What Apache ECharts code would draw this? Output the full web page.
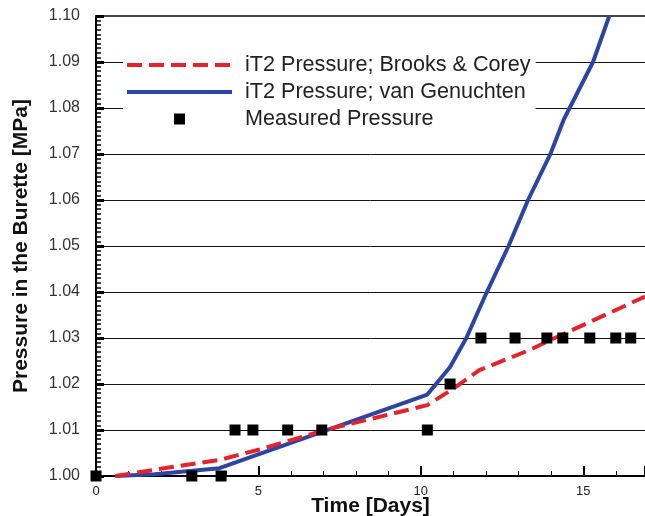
<!DOCTYPE html>
<html>
<head>
<meta charset="utf-8">
<script src="https://cdn.jsdelivr.net/npm/echarts@6/dist/echarts.min.js"></script>
<style>
html,body{margin:0;padding:0;background:#fff;}
#c{width:645px;height:516px;}
</style>
</head>
<body>
<div id="c"></div>
<script>
// Measured pressure
const measuredDays = [0, 2.95, 3.85, 4.28, 4.83, 5.9, 6.95, 10.2, 10.9, 11.85, 12.9, 13.88, 14.37, 15.2, 16.0, 16.46];
const measuredP    = [1.00, 1.00, 1.00, 1.01, 1.01, 1.01, 1.01, 1.01, 1.02, 1.03, 1.03, 1.03, 1.03, 1.03, 1.03, 1.03];

// iT2 Pressure; Brooks & Corey
const bcDays = [0.6, 1.75, 3.8, 5.0, 7.0, 10.2, 11.0, 11.8, 13.35, 14.0, 16.9];
const bcP    = [1.0, 1.0013, 1.0035, 1.0057, 1.0099, 1.0154, 1.019, 1.023, 1.0274, 1.0296, 1.039];

// iT2 Pressure; van Genuchten
const vgDays = [0.6, 1.8, 3.8, 10.2, 10.9, 11.4, 12.0, 12.7, 13.3, 14.0, 14.4, 15.3, 15.8];
const vgP    = [1.0, 1.0004, 1.0017, 1.0177, 1.0237, 1.030, 1.0395, 1.050, 1.060, 1.0702, 1.0775, 1.090, 1.100];

const seriesNames = ['iT2 Pressure; Brooks & Corey', 'iT2 Pressure; van Genuchten', 'Measured Pressure'];

const zip = (xs, ys) => xs.map((x, i) => [x, ys[i]]);
const FONT = 'Arial, "Liberation Sans", sans-serif';

const chart = echarts.init(document.getElementById('c'), null, {renderer: 'canvas'});
chart.setOption({
  backgroundColor: '#ffffff',
  animation: false,
  grid: {left: 96, top: 16, right: 0, bottom: 40, containLabel: false, outerBoundsMode: 'none'},
  legend: {
    orient: 'vertical',
    left: 123,
    top: 45,
    padding: [9, 5, 8, 2],
    backgroundColor: '#ffffff',
    itemWidth: 105,
    itemHeight: 11,
    itemGap: 5,
    symbolKeepAspect: true,
    lineStyle: {width: 4},
    textStyle: {fontFamily: FONT, fontSize: 21.6, color: '#222', lineHeight: 22, padding: [0, 0, 0, 8]},
    data: [
      {name: seriesNames[0], itemStyle: {opacity: 0}},
      {name: seriesNames[1], itemStyle: {opacity: 0}},
      {name: seriesNames[2], icon: 'path://M0,0L10,0L10,10L0,10Z'}
    ]
  },
  xAxis: [{
    type: 'value',
    min: 0,
    max: 16.9,
    interval: 5,
    name: 'Time [Days]',
    nameLocation: 'middle',
    nameGap: 20,
    nameMoveOverlap: false,
    nameTextStyle: {fontFamily: FONT, fontSize: 21, fontWeight: 'bold', color: '#111'},
    axisLine: {show: true, onZero: false, lineStyle: {color: '#000', width: 2}},
    axisTick: {show: true, inside: true, length: 10, lineStyle: {color: '#000', width: 2}},
    minorTick: {show: true, splitNumber: 5, length: 5, lineStyle: {color: '#000', width: 1}},
    axisLabel: {fontFamily: FONT, fontSize: 13, color: '#222', margin: 9, showMaxLabel: false},
    splitLine: {show: false}
  }, {
    type: 'value',
    position: 'top',
    min: 0,
    max: 16.9,
    axisLine: {show: true, onZero: false, lineStyle: {color: '#444', width: 2}},
    axisTick: {show: false},
    axisLabel: {show: false},
    splitLine: {show: false}
  }],
  yAxis: {
    type: 'value',
    min: 1.0,
    max: 1.1,
    interval: 0.01,
    name: 'Pressure in the Burette [MPa]',
    nameLocation: 'middle',
    nameGap: 64,
    nameRotate: 90,
    nameMoveOverlap: false,
    nameTextStyle: {fontFamily: FONT, fontSize: 21, fontWeight: 'bold', color: '#111'},
    axisLine: {show: true, onZero: false, lineStyle: {color: '#000', width: 2}},
    axisTick: {show: true, inside: true, length: 8, lineStyle: {color: '#000', width: 3}},
    minorTick: {show: true, splitNumber: 10, length: 5, lineStyle: {color: '#000', width: 1.5}},
    axisLabel: {fontFamily: FONT, fontSize: 16, color: '#333', margin: 16,
      formatter: v => v.toFixed(2)},
    splitLine: {show: true, lineStyle: {color: '#111', width: 1}}
  },
  series: [{
    name: seriesNames[0],
    type: 'line',
    data: zip(bcDays, bcP),
    symbol: 'none',
    lineStyle: {color: '#e4232b', width: 4, type: [15, 7]},
    itemStyle: {color: '#e4232b'},
    z: 3
  }, {
    name: seriesNames[1],
    type: 'line',
    data: zip(vgDays, vgP),
    symbol: 'none',
    lineStyle: {color: '#2c45a3', width: 4},
    itemStyle: {color: '#2c45a3'},
    z: 2
  }, {
    name: seriesNames[2],
    type: 'scatter',
    data: zip(measuredDays, measuredP),
    symbol: 'rect',
    symbolSize: 11,
    itemStyle: {color: '#000', opacity: 1},
    clip: false,
    z: 4
  }]
});
</script>
</body>
</html>
